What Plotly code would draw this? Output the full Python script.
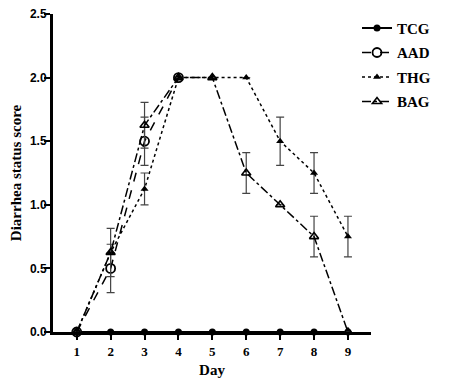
import plotly.graph_objects as go

days = [1, 2, 3, 4, 5, 6, 7, 8, 9]
tcg = [0, 0, 0, 0, 0, 0, 0, 0, 0]
aad_days = [1, 2, 3, 4]
aad = [0, 0.5, 1.5, 2.0]
aad_err = [0, 0.19, 0.19, 0]
thg = [0, 0.625, 1.125, 2.0, 2.0, 2.0, 1.5, 1.25, 0.75]
thg_err = [0, 0, 0.125, 0, 0, 0, 0.19, 0.16, 0.16]
bag = [0, 0.625, 1.625, 2.0, 2.0, 1.25, 1.0, 0.75, 0]
bag_err = [0, 0.19, 0.18, 0, 0, 0.16, 0, 0.16, 0]
y_ticks = [0, 0.5, 1.0, 1.5, 2.0, 2.5]

serif = "Liberation Serif"
sans = "Liberation Sans"

def eb(vals):
    return dict(type="data", array=vals, visible=True, color="#444444", thickness=1.2, width=4)

fig = go.Figure()
fig.add_trace(go.Scatter(x=days, y=tcg, name="TCG", mode="lines+markers",
                         line=dict(color="black", width=1.8, dash="solid"),
                         marker=dict(symbol="circle", size=7, color="black"),
                         cliponaxis=False, legendgroup="a"))
fig.add_trace(go.Scatter(x=aad_days, y=aad, name="AAD", mode="lines+markers",
                         line=dict(color="black", width=1.5, dash="dash"),
                         marker=dict(symbol="circle-open", size=9, color="black", line=dict(width=1.8)),
                         error_y=eb(aad_err), cliponaxis=False, legendgroup="b"))
fig.add_trace(go.Scatter(x=days, y=thg, name="THG", mode="lines+markers",
                         line=dict(color="black", width=1.5, dash="dot"),
                         marker=dict(symbol="triangle-up", size=7, color="black"),
                         error_y=eb(thg_err), cliponaxis=False, legendgroup="c"))
fig.add_trace(go.Scatter(x=days, y=bag, name="BAG", mode="lines+markers",
                         line=dict(color="black", width=1.5, dash="dashdot"),
                         marker=dict(symbol="triangle-up-open", size=8, color="black", line=dict(width=1.6)),
                         error_y=eb(bag_err), cliponaxis=False, legendgroup="d"))

fig.update_layout(
    width=443, height=378,
    margin=dict(l=45, r=80, t=6, b=54, autoexpand=False),
    paper_bgcolor="white", plot_bgcolor="white",
    showlegend=True,
    legend=dict(x=0.956, y=1.007, xanchor="left", yanchor="top", bgcolor="rgba(0,0,0,0)",
                font=dict(family=serif, size=15, color="black", weight="bold"),
                tracegroupgap=2, traceorder="grouped"),
    xaxis=dict(range=[0.3, 9.68], tickvals=days, ticktext=[str(d) for d in days],
               automargin=False,
               showline=True, linecolor="black", linewidth=3, showgrid=False, zeroline=False,
               ticks="outside", ticklen=5, tickwidth=2, tickcolor="black",
               tickfont=dict(family=serif, size=13, color="black", weight="bold"),
               title=dict(text="Day", font=dict(family=serif, size=15, color="black", weight="bold"), standoff=7)),
    yaxis=dict(range=[0, 2.5], tickvals=y_ticks, tickformat=".1f",
               automargin=False, ticklabeloverflow="allow",
               showline=True, linecolor="black", linewidth=3, showgrid=False, zeroline=False,
               ticks="outside", ticklen=6, tickwidth=2, tickcolor="black", ticklabelstandoff=-5,
               tickfont=dict(family=sans, size=12, color="black", weight="bold"),
               title=dict(text="Diarrhea status score", font=dict(family=serif, size=15, color="black", weight="bold"), standoff=5)),
)

fig.write_html("out.html")
